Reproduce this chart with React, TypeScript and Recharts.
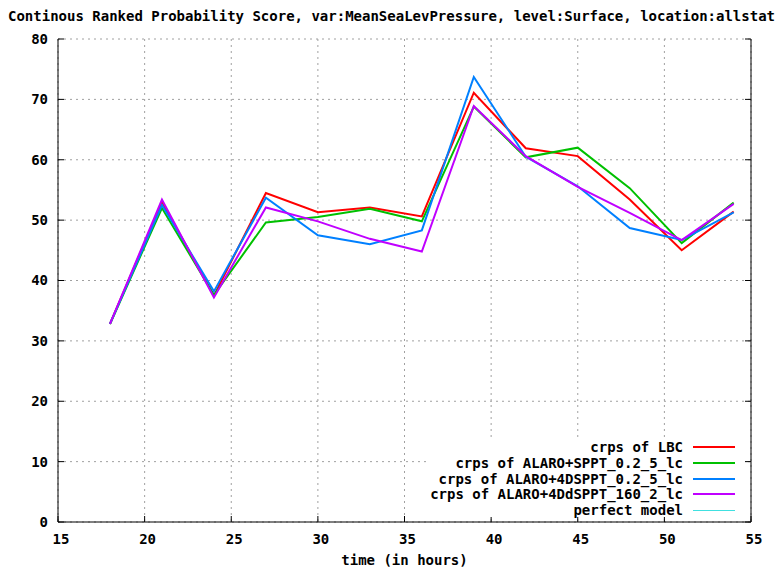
import React from 'react';
import { LineChart, Line, XAxis, YAxis, CartesianGrid, Legend } from 'recharts';

const hours = [18, 21, 24, 27, 30, 33, 36, 39, 42, 45, 48, 51, 54];
const lbc = [32.8, 53.0, 37.5, 54.5, 51.3, 52.1, 50.6, 71.1, 61.9, 60.6, 53.4, 45.0, 51.4];
const sppt = [32.8, 52.0, 37.6, 49.6, 50.5, 51.9, 49.8, 68.8, 60.4, 62.0, 55.3, 46.2, 52.9];
const dsppt = [32.8, 52.5, 38.2, 53.7, 47.5, 46.0, 48.3, 73.7, 60.5, 55.6, 48.7, 46.7, 51.3];
const ddsppt = [32.8, 53.4, 37.2, 52.1, 49.8, 46.9, 44.8, 68.9, 60.6, 55.5, 51.2, 46.7, 52.7];

const xTicks = [15, 20, 25, 30, 35, 40, 45, 50, 55];
const yTicks = [0, 10, 20, 30, 40, 50, 60, 70, 80];

const title =
  'Continous Ranked Probability Score, var:MeanSeaLevPressure, level:Surface, location:allstat';
const xLabel = 'time (in hours)';

const series = [
  { key: 'lbc', name: 'crps of LBC', color: '#ff0000', width: 2 },
  { key: 'sppt', name: 'crps of ALARO+SPPT_0.2_5_lc', color: '#00c000', width: 2 },
  { key: 'dsppt', name: 'crps of ALARO+4DSPPT_0.2_5_lc', color: '#0080ff', width: 2 },
  { key: 'ddsppt', name: 'crps of ALARO+4DdSPPT_160_2_lc', color: '#c000ff', width: 2 },
  { key: 'perfect', name: 'perfect model', color: '#40e0e0', width: 1 },
];

const data = hours.map((h, i) => ({
  hour: h,
  lbc: lbc[i],
  sppt: sppt[i],
  dsppt: dsppt[i],
  ddsppt: ddsppt[i],
}));

const FONT = "'DejaVu Sans Mono', 'Liberation Mono', monospace";

const LeftTick = (props: any) => {
  const { x, y, payload } = props;
  return (
    <g>
      <line x1={x + 10} x2={x + 16} y1={y} y2={y} stroke="#000" />
      <text x={x} y={y} dy="0.355em" textAnchor="end" fontFamily={FONT} fontWeight="bold" fontSize={14} fill="#000">
        {payload.value}
      </text>
    </g>
  );
};

const RightTick = (props: any) => {
  const { x, y } = props;
  return <line x1={x - 6} x2={x} y1={y} y2={y} stroke="#000" />;
};

const BottomTick = (props: any) => {
  const { x, y, payload } = props;
  return (
    <g>
      <line x1={x} x2={x} y1={y - 12} y2={y - 18} stroke="#000" />
      <text x={x + 3} y={y} dy="0.71em" textAnchor="middle" fontFamily={FONT} fontWeight="bold" fontSize={14} fill="#000">
        {payload.value}
      </text>
    </g>
  );
};

const TopTick = (props: any) => {
  const { x, y } = props;
  return <line x1={x} x2={x} y1={y} y2={y + 6} stroke="#000" />;
};

const XLabel = (props: any) => {
  const vb = props.viewBox || { x: 58, y: 522, width: 693, height: 30 };
  return (
    <text
      x={vb.x + vb.width / 2}
      y={vb.y + 43}
      textAnchor="middle"
      fontFamily={FONT}
      fontWeight="bold"
      fontSize={14}
      fill="#000"
    >
      {xLabel}
    </text>
  );
};

const LegendBox = () => (
  <div
    style={{
      position: 'relative',
      width: 316,
      height: 80,
      background: '#fff',
      fontFamily: FONT,
      fontWeight: 'bold',
      fontSize: 14,
      color: '#000',
    }}
  >
    {series.map((s, i) => (
      <div key={s.key} style={{ position: 'absolute', left: 0, top: 10 + i * 15.8 - 8, height: 16, width: 316 }}>
        <span style={{ position: 'absolute', right: 316 - 255, top: 0, lineHeight: '16px', whiteSpace: 'nowrap' }}>
          {s.name}
        </span>
        <span
          style={{
            position: 'absolute',
            left: 693 - 428,
            width: 42,
            top: 8 - s.width / 2,
            height: s.width,
            background: s.color,
          }}
        />
      </div>
    ))}
  </div>
);

export default function App() {
  return (
    <div
      style={{
        position: 'absolute',
        left: 0,
        top: 0,
        width: 778,
        height: 570,
        overflow: 'hidden',
        background: '#fff',
      }}
    >
      <div
        style={{
          position: 'absolute',
          left: 8,
          top: 9,
          whiteSpace: 'nowrap',
          fontFamily: FONT,
          fontWeight: 'bold',
          fontSize: 14,
          lineHeight: '14px',
          color: '#000',
        }}
      >
        {title}
      </div>
      <LineChart width={778} height={570} data={data} margin={{ top: 39, right: 0, left: 8, bottom: 18 }}>
        <CartesianGrid stroke="#a0a0a0" strokeDasharray="2 4" />
        <XAxis
          dataKey="hour"
          type="number"
          domain={[15, 55]}
          ticks={xTicks}
          height={30}
          tickSize={0}
          tickMargin={12}
          tick={<BottomTick />}
          axisLine={{ stroke: '#000' }}
          label={<XLabel />}
          allowDataOverflow
        />
        <XAxis
          xAxisId="top"
          orientation="top"
          dataKey="hour"
          type="number"
          domain={[15, 55]}
          ticks={xTicks}
          height={0}
          tickSize={0}
          tickMargin={0}
          tick={<TopTick />}
          axisLine={{ stroke: '#000' }}
          allowDataOverflow
        />
        <YAxis
          type="number"
          domain={[0, 80]}
          ticks={yTicks}
          width={50}
          tickSize={0}
          tickMargin={10}
          tick={<LeftTick />}
          axisLine={{ stroke: '#000' }}
          allowDataOverflow
        />
        <YAxis
          yAxisId="right"
          orientation="right"
          type="number"
          domain={[0, 80]}
          ticks={yTicks}
          width={27}
          tickSize={0}
          tickMargin={0}
          tick={<RightTick />}
          axisLine={{ stroke: '#000' }}
          allowDataOverflow
        />
        <Legend
          layout="vertical"
          align="center"
          verticalAlign="middle"
          content={<LegendBox />}
          wrapperStyle={{ left: 428, top: 437, width: 316, height: 80, margin: 0 }}
        />
        {series.map((s) => (
          <Line
            key={s.key}
            dataKey={s.key}
            name={s.name}
            stroke={s.color}
            strokeWidth={s.width}
            dot={false}
            activeDot={false}
            isAnimationActive={false}
            connectNulls={false}
          />
        ))}
      </LineChart>
    </div>
  );
}
